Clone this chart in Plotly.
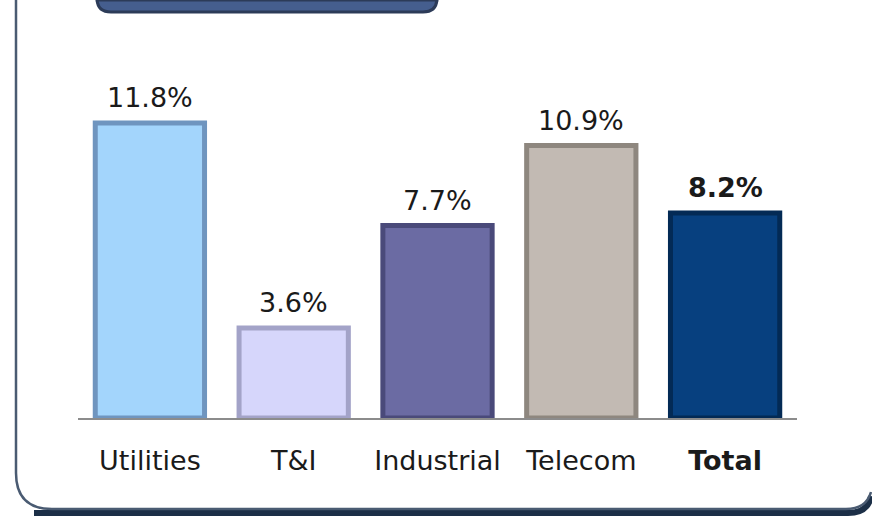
import plotly.graph_objects as go

categories = ["Utilities", "T&I", "Industrial", "Telecom", "Total"]
values = [11.8, 3.6, 7.7, 10.9, 8.2]
tick_labels = ["Utilities", "T&amp;I", "Industrial", "Telecom", "<b>Total</b>"]
face_colors = ["#a3d5fc", "#d6d6fb", "#6b6ba3", "#c2bab3", "#07407f"]
edge_colors = ["#6f95bf", "#a3a3c8", "#4a4a7a", "#8e877f", "#032a55"]

W, H = 872, 516
X0, X1 = 78, 797      # plot area in px
Y_BASE = 418          # baseline px
PX_PER_UNIT = 25.0

def px(x):
    return x / W

def py(y):
    return 1 - y / H

fig = go.Figure()
fig.add_trace(go.Bar(
    x=categories, y=values, width=0.76,
    marker=dict(color=face_colors, line=dict(color=edge_colors, width=5)),
    hoverinfo="skip", showlegend=False,
))

annotations = []
for c, v in zip(categories, values):
    t = f"{v:.1f}%"
    if c == "Total":
        t = f"<b>{t}</b>"
    annotations.append(dict(
        x=c, y=v, xref="x", yref="y", text=t, showarrow=False,
        yanchor="bottom", yshift=8,
        font=dict(family="DejaVu Sans", size=27, color="#1a1a1a"),
    ))

# frame with rounded bottom corners; everything kept inside the page
L, B, T = px(16), py(509), py(0)
rx, ry = px(36), 36 / H
frame = (f"M {L},{T} L {L},{B+ry} Q {L},{B} {L+rx},{B} "
         f"L {px(846)},{B} Q {px(866)},{B} {px(871)},{py(492)}")
shadow = (f"M {px(34)},{py(513)} L {px(848)},{py(513)} "
          f"Q {px(868)},{py(513)} {px(871)},{py(496)}")

# title box at top
bl, br, bb, bt = px(97), px(437), py(12), py(0)
brx, bry = px(14), 14 / H
tbox = (f"M {bl},{bt} L {bl},{bb+bry} Q {bl},{bb} {bl+brx},{bb} "
        f"L {br-brx},{bb} Q {br},{bb} {br},{bb+bry} L {br},{bt} Z")

shapes = [
    dict(type="path", path=shadow, xref="paper", yref="paper",
         line=dict(color="#1c2f47", width=6), layer="below"),
    dict(type="path", path=frame, xref="paper", yref="paper",
         line=dict(color="#4a5b72", width=2.5), layer="below"),
    dict(type="path", path=tbox, xref="paper", yref="paper",
         fillcolor="#455e8e", line=dict(color="#2c3b58", width=3), layer="below"),
]

fig.update_layout(
    width=W, height=H, template="none",
    margin=dict(l=0, r=0, t=0, b=0),
    paper_bgcolor="white", plot_bgcolor="rgba(0,0,0,0)",
    xaxis=dict(domain=[px(X0), px(X1)], range=[-0.5, 4.5],
               tickvals=categories, ticktext=tick_labels,
               showline=True, linecolor="#8c8c8c", linewidth=2,
               showgrid=False, zeroline=False, ticks="", ticklabelstandoff=18,
               automargin=False,
               tickfont=dict(family="DejaVu Sans", size=27, color="#1a1a1a")),
    yaxis=dict(domain=[py(Y_BASE), 1], range=[0, Y_BASE / PX_PER_UNIT],
               visible=False, showgrid=False, zeroline=False, automargin=False),
    annotations=annotations,
    shapes=shapes,
)

fig.write_html("out.html", config={"displayModeBar": False},
               post_script="document.body.style.margin='0';document.body.style.overflow='hidden';")
